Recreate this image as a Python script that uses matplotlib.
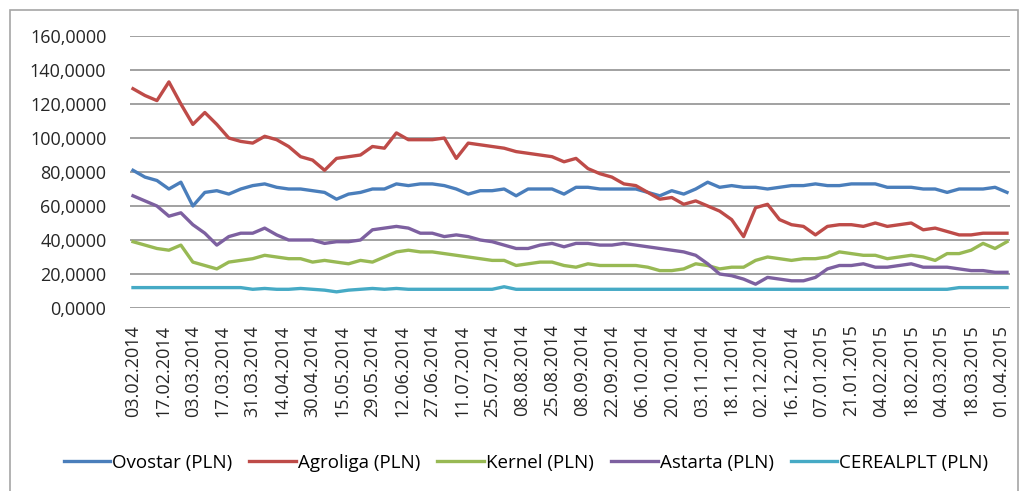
import matplotlib
matplotlib.use("Agg")
import matplotlib.pyplot as plt
from matplotlib.patches import Rectangle

# sampled every 4 trading days, starting 03.02.2014
step = 4
ovostar = [81, 77, 75, 70, 74, 60, 68, 69, 67, 70, 72, 73, 71, 70, 70, 69, 68, 64, 67, 68,
           70, 70, 73, 72, 73, 73, 72, 70, 67, 69, 69, 70, 66, 70, 70, 70, 67, 71, 71, 70,
           70, 70, 70, 68, 66, 69, 67, 70, 74, 71, 72, 71, 71, 70, 71, 72, 72, 73, 72, 72,
           73, 73, 73, 71, 71, 71, 70, 70, 68, 70, 70, 70, 71, 68]
agroliga = [129, 125, 122, 133, 120, 108, 115, 108, 100, 98, 97, 101, 99, 95, 89, 87, 81, 88, 89, 90,
            95, 94, 103, 99, 99, 99, 100, 88, 97, 96, 95, 94, 92, 91, 90, 89, 86, 88, 82, 79,
            77, 73, 72, 68, 64, 65, 61, 63, 60, 57, 52, 42, 59, 61, 52, 49, 48, 43, 48, 49,
            49, 48, 50, 48, 49, 50, 46, 47, 45, 43, 43, 44, 44, 44]
kernel = [39, 37, 35, 34, 37, 27, 25, 23, 27, 28, 29, 31, 30, 29, 29, 27, 28, 27, 26, 28,
          27, 30, 33, 34, 33, 33, 32, 31, 30, 29, 28, 28, 25, 26, 27, 27, 25, 24, 26, 25,
          25, 25, 25, 24, 22, 22, 23, 26, 25, 23, 24, 24, 28, 30, 29, 28, 29, 29, 30, 33,
          32, 31, 31, 29, 30, 31, 30, 28, 32, 32, 34, 38, 35, 39]
astarta = [66, 63, 60, 54, 56, 49, 44, 37, 42, 44, 44, 47, 43, 40, 40, 40, 38, 39, 39, 40,
           46, 47, 48, 47, 44, 44, 42, 43, 42, 40, 39, 37, 35, 35, 37, 38, 36, 38, 38, 37,
           37, 38, 37, 36, 35, 34, 33, 31, 26, 20, 19, 17, 14, 18, 17, 16, 16, 18, 23, 25,
           25, 26, 24, 24, 25, 26, 24, 24, 24, 23, 22, 22, 21, 21]
cerealplt = [12, 12, 12, 12, 12, 12, 12, 12, 12, 12, 11, 11.5, 11, 11, 11.5, 11, 10.5, 9.5, 10.5, 11,
             11.5, 11, 11.5, 11, 11, 11, 11, 11, 11, 11, 11, 12.5, 11, 11, 11, 11, 11, 11, 11, 11,
             11, 11, 11, 11, 11, 11, 11, 11, 11, 11, 11, 11, 11, 11, 11, 11, 11, 11, 11, 11,
             11, 11, 11, 11, 11, 11, 11, 11, 11, 12, 12, 12, 12, 12]

date_labels = ["03.02.2014", "17.02.2014", "03.03.2014", "17.03.2014", "31.03.2014", "14.04.2014",
               "30.04.2014", "15.05.2014", "29.05.2014", "12.06.2014", "27.06.2014", "11.07.2014",
               "25.07.2014", "08.08.2014", "25.08.2014", "08.09.2014", "22.09.2014", "06.10.2014",
               "20.10.2014", "03.11.2014", "18.11.2014", "02.12.2014", "16.12.2014", "07.01.2015",
               "21.01.2015", "04.02.2015", "18.02.2015", "04.03.2015", "18.03.2015", "01.04.2015"]

series = [("Ovostar (PLN)", ovostar, "#4A7EBB"),
          ("Agroliga (PLN)", agroliga, "#BE4B48"),
          ("Kernel (PLN)", kernel, "#98B954"),
          ("Astarta (PLN)", astarta, "#7D60A0"),
          ("CEREALPLT (PLN)", cerealplt, "#46AAC5")]

plt.rcParams['font.family'] = ['Open Sans', 'DejaVu Sans']

fig = plt.figure(figsize=(10.25, 4.91), dpi=100)
fig.patches.append(Rectangle((10 / 1025, -0.05), 1008 / 1025, 1 - 10 / 491 + 0.05,
                             transform=fig.transFigure, fill=False,
                             edgecolor="#a6a6a6", linewidth=1.2))
ax = fig.add_axes([130 / 1025, 1 - 308 / 491, 880 / 1025, 272 / 491])

for name, vals, col in series:
    xs = [i * step for i in range(len(vals))]
    ax.plot(xs, vals, color=col, linewidth=2.4, label=name)

ax.set_ylim(0, 160)
ax.set_yticks(range(0, 161, 20))
ax.set_yticklabels([f"{v},0000" for v in range(0, 161, 20)])
ax.set_xlim(-1, 293)
ax.set_xticks([i * 10 for i in range(len(date_labels))])
ax.set_xticklabels(date_labels, rotation=90)
ax.tick_params(axis="both", length=0, labelsize=13, colors="#262626")
ax.tick_params(axis="y", pad=17)
ax.tick_params(axis="x", pad=12)
ax.grid(axis="y", color="#9a9a9a", linewidth=1.3)
ax.set_axisbelow(True)
for s in ax.spines.values():
    s.set_visible(False)

fig.legend(loc="center", bbox_to_anchor=(526 / 1025, 1 - 463 / 491), ncol=5, frameon=False,
           fontsize=13.5, handlelength=2.5, handletextpad=0.1, columnspacing=0.9)

fig.savefig("out.png", dpi=100)
